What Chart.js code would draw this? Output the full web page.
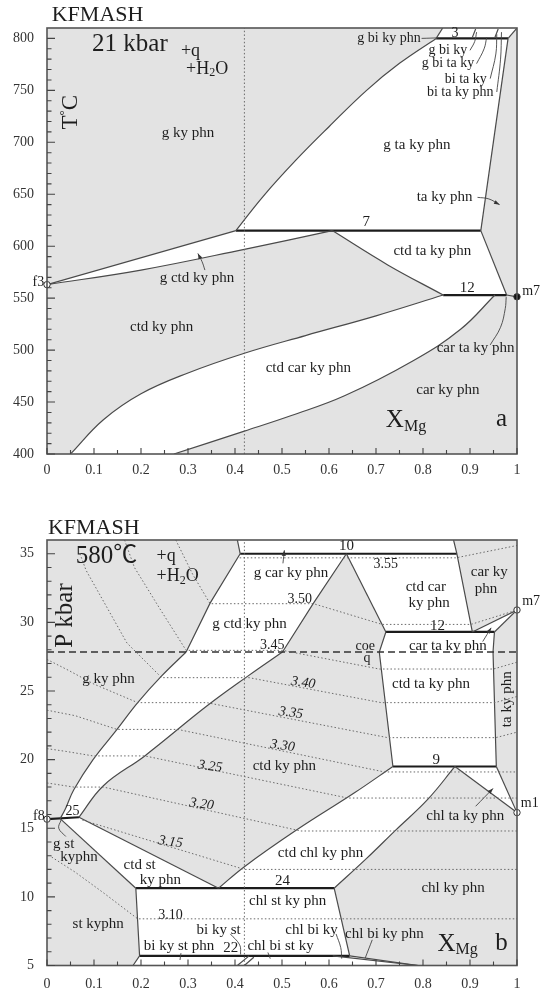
<!DOCTYPE html>
<html><head><meta charset="utf-8">
<script src="https://cdn.jsdelivr.net/npm/chart.js@4.4.0/dist/chart.umd.min.js"></script>
<style>
html,body{margin:0;padding:0;background:#fff;width:540px;height:991px;overflow:hidden}
canvas{position:absolute;left:0}
</style></head><body>
<canvas id="c1" width="540" height="490" style="top:0"></canvas>
<canvas id="c2" width="540" height="511" style="top:480px"></canvas>
<script>
// ---------------- shared ticks ----------------
const xTicks = [0,0.1,0.2,0.3,0.4,0.5,0.6,0.7,0.8,0.9,1];
const topYTicks = [400,450,500,550,600,650,700,750,800];
const botYTicks = [5,10,15,20,25,30,35];

// ---------------- (a) T-X at 21 kbar ----------------
const tF3Upper = [[0,563],[0.402,615]];
const tF3Lower = [[0,563],[0.2,577],[0.42,597],[0.607,615]];
const tLine7 = [[0.402,615],[0.923,615]];
const tCtdTaLeft = [[0.607,615],[0.725,582],[0.843,553]];
const tCtdTaRight = [[0.923,615],[0.978,553]];
const tLine12 = [[0.843,553],[0.978,553]];
const tToM7 = [[0.978,553],[1,551.3]];
const tGTaLeft = [[0.402,615],[0.46,648],[0.53,683],[0.6,715],[0.68,750],[0.75,776],[0.828,800]];
const tGTaRight = [[0.923,615],[0.981,800]];
const tLine3 = [[0.828,800],[0.981,800]];
const tCorner = [[0.981,800],[1,810]];
const tStripLeft = [[0.828,800],[0.842,810]];
const tStripMarks = [[[0.905,801],[0.912,809]],[[0.953,801],[0.96,809]]];
const tCtdCarUpper = [[0.05,400],[0.12,433],[0.2,458],[0.3,478],[0.42,497],[0.55,514],[0.7,533],[0.843,553]];
const tCtdCarLower = [[0.27,400],[0.42,422],[0.52,437],[0.633,456],[0.78,490],[0.88,520],[0.953,553]];
const tVertDotted = [[0.42,400],[0.42,810]];
const tPointsOpen = [[0,563]];
const tPointsFilled = [[1,551.3]];
const tLeaders = [
  [[0.797,800],[0.833,800.5]],
  [[0.9,788.5],[0.91,797],[0.914,806]],
  [[0.914,775.7],[0.93,790],[0.9355,801]],
  [[0.943,761.3],[0.955,785],[0.957,804]],
  [[0.957,748.4],[0.965,780],[0.967,806]],
  [[0.943,505],[0.965,522],[0.975,540],[0.977,551]]
];
const tArrows = [
  [[0.336,577],[0.33,585],[0.321,593]],
  [[0.916,647],[0.94,645.5],[0.963,640]]
];
const tLabels = [
  {t:'KFMASH', s:22, x:0.01, y:822, a:'left'},
  {t:'21 kbar', s:25, x:0.096, y:794, a:'left'},
  {t:'+q', s:18, x:0.285, y:788, a:'left'},
  {rich:[{t:'+H',s:18},{t:'2',s:12,dy:4},{t:'O',s:18}], x:0.296, y:770.5, a:'left'},
  {rich:[{t:'T',s:23},{t:'°',s:13,dy:-7},{t:'C',s:23}], x:0.052, y:729, r:-90},
  {t:'g ky phn', x:0.30, y:709},
  {t:'g ta ky phn', x:0.787, y:697},
  {t:'g bi ky phn', s:14, x:0.795, y:800, a:'right'},
  {t:'3', s:14, x:0.868, y:804.5},
  {t:'g bi ky', s:14, x:0.853, y:788.5},
  {t:'g bi ta ky', s:14, x:0.853, y:775.6},
  {t:'bi ta ky', s:14, x:0.891, y:761},
  {t:'bi ta ky phn', s:14, x:0.879, y:748.4},
  {t:'ta ky phn', x:0.846, y:647},
  {t:'7', x:0.679, y:623},
  {t:'ctd ta ky phn', x:0.82, y:595.5},
  {t:'g ctd ky phn', x:0.319, y:569},
  {t:'12', x:0.894, y:560},
  {t:'ctd ky phn', x:0.244, y:522},
  {t:'ctd car ky phn', x:0.556, y:483},
  {t:'car ta ky phn', x:0.912, y:501.6},
  {t:'car ky phn', x:0.853, y:462},
  {rich:[{t:'X',s:25},{t:'Mg',s:16,dy:6}], x:0.721, y:432, a:'left'},
  {t:'a', s:25, x:0.967, y:433},
  {t:'f3', s:14, x:-0.006, y:565, a:'right'},
  {t:'m7', s:14, x:1.011, y:557, a:'left'}
];
const tRegions = [
  [{c:tGTaLeft, s:true}, [0.981,800], [0.923,615]],
  [...tF3Upper, [0.607,615], {c:tF3Lower, s:true, rev:true}],
  [{c:tCtdTaLeft, s:true}, [0.978,553], [0.923,615]],
  [{c:tCtdCarUpper, s:true}, {c:tCtdCarLower, s:true, rev:true}],
  [[0.828,800],[0.842,810],[1,810],[0.981,800]]
];

// ---------------- (b) P-X at 580 C ----------------
const bBandLeftUp = [[0.411,35],[0.347,31.4],[0.296,27.84]];
const bBandLeftLow = [[0.296,27.84],[0.244,26.1],[0.193,24.15],[0.149,22.2],[0.098,20.0],[0.057,17.8],[0.039,16.4],[0.028,15.7]];
const bBandRightUp = [[0.637,35],[0.567,31.4],[0.501,27.84]];
const bBandRightLow = [[0.501,27.84],[0.428,26.1],[0.34,23.9],[0.208,20.27],[0.12,18.1],[0.068,15.8]];
const bApexRight = [[0.637,35],[0.721,29.3]];
const bCarKyLeft = [[0.865,36],[0.872,35],[0.905,29.3]];
const bStripLeft = [[0.405,36],[0.411,35]];
const bLine10 = [[0.411,35],[0.872,35]];
const bLine12 = [[0.721,29.3],[0.952,29.3]];
const bM7a = [[0.905,29.3],[1,30.9]];
const bM7b = [[0.952,29.3],[1,30.9]];
const bCtdTaLeft = [[0.721,29.3],[0.707,27.84],[0.736,19.5]];
const bCtdTaRight = [[0.952,29.3],[0.949,27.84],[0.956,19.5]];
const bLine9 = [[0.736,19.5],[0.956,19.5]];
const bTaToM1 = [[0.956,19.5],[1,16.14]];
const bApexToM1 = [[0.868,19.5],[1,16.14]];
const bChlBandUpper = [[0.736,19.5],[0.655,17.6],[0.53,14.85],[0.42,12.2],[0.365,10.63]];
const bChlBandLower = [[0.868,19.5],[0.81,17.1],[0.743,14.9],[0.68,12.8],[0.611,10.63]];
const bLine25 = [[0,15.66],[0.068,15.8]];
const bCtdStLeft = [[0.028,15.7],[0.189,10.63]];
const bCtdStUpper = [[0.068,15.8],[0.365,10.63]];
const bLine24 = [[0.189,10.63],[0.611,10.63]];
const bChlStLeft = [[0.189,10.63],[0.197,5.7],[0.183,5]];
const bChlStRight = [[0.611,10.63],[0.644,5.7]];
const bLine22 = [[0.197,5.7],[0.644,5.7]];
const bLowLines = [[[0.608,5.7],[0.79,5]],[[0.644,5.7],[0.79,5]],[[0.405,5],[0.43,5.7]],[[0.42,5],[0.44,5.6]]];
const bCoeQ = [[0,27.84],[1,27.84]];
const bVertDotted = [[0.42,5],[0.42,36]];
const bIsopleths = [
  [[0.41,34.7],[0.87,34.7],[1,35.6]],
  [[0.274,36],[0.31,33.5],[0.347,31.36],[0.567,31.36],[0.713,29.85],[0.902,29.85],[1,30.9]],
  [[0.165,36],[0.186,34],[0.24,31],[0.296,27.96],[0.501,27.96],[0.707,26.6],[0.95,26.6],[1,27.1]],
  [[0.07,35],[0.083,33.8],[0.17,28.5],[0.244,25.97],[0.43,25.97],[0.711,24.15],[0.953,24.15],[1,24.6]],
  [[0,27.3],[0.046,26.5],[0.1,25.5],[0.193,24.15],[0.34,24.15],[0.725,21.6],[0.955,21.6],[1,22.0]],
  [[0,23.6],[0.06,23.2],[0.149,22.2],[0.278,22.2],[0.718,19.1],[1,19.1]],
  [[0,20.8],[0.04,20.6],[0.098,20.27],[0.208,20.27],[0.64,17.2],[1,17.2]],
  [[0,18.3],[0.057,18.0],[0.12,18.0],[0.54,14.8],[1,14.8]],
  [[0.075,15.6],[0.42,12.0],[1,12.0]],
  [[0.01,12.9],[0.06,11.8],[0.12,10.3],[0.193,8.4],[1,8.4]]
];
const bPointsOpen = [[0,15.66],[1,30.9],[1,16.14]];
const bLeaders = [
  [[0.04,14.4],[0.025,15.0],[0.03,15.6]],
  [[0.39,7.3],[0.41,6.5],[0.412,5.8]],
  [[0.615,7.3],[0.625,6.3],[0.627,5.5]],
  [[0.692,6.87],[0.677,5.54]],
  [[0.285,5.9],[0.283,5.4]],
  [[0.47,5.95],[0.475,5.5]]
];
const bArrows = [
  [[0.502,34.3],[0.505,35.25]],
  [[0.927,28.6],[0.945,29.6]],
  [[0.912,16.6],[0.949,17.9]]
];
const bLabels = [
  {t:'KFMASH', s:22, x:0.002, y:36.87, a:'left'},
  {rich:[{t:'580',s:25},{t:'℃',s:24}], x:0.061, y:34.83, a:'left'},
  {t:'+q', s:18, x:0.233, y:34.8, a:'left'},
  {rich:[{t:'+H',s:18},{t:'2',s:12,dy:4},{t:'O',s:18}], x:0.233, y:33.35, a:'left'},
  {t:'P kbar', s:25, x:0.039, y:30.5, r:-90},
  {t:'g car ky phn', x:0.519, y:33.6},
  {t:'10', x:0.637, y:35.55},
  {t:'3.55', s:14, x:0.721, y:34.2},
  {t:'ctd car', x:0.806, y:32.6},
  {t:'ky phn', x:0.813, y:31.4},
  {t:'car ky', x:0.941, y:33.7},
  {t:'phn', x:0.934, y:32.45},
  {t:'3.50', s:14, x:0.538, y:31.65},
  {t:'g ctd ky phn', x:0.431, y:29.9},
  {t:'12', x:0.831, y:29.7},
  {t:'3.45', s:14, x:0.479, y:28.35},
  {t:'coe', s:14, x:0.677, y:28.25},
  {t:'q', s:14, x:0.681, y:27.35},
  {t:'car ta ky phn', x:0.853, y:28.3},
  {t:'g ky phn', x:0.131, y:25.85},
  {t:'3.40', s:14, it:true, r:8, x:0.545, y:25.6},
  {t:'ctd ta ky phn', x:0.817, y:25.5},
  {t:'ta ky phn', x:0.978, y:24.4, r:-90},
  {t:'3.35', s:14, it:true, r:8, x:0.519, y:23.4},
  {t:'3.30', s:14, it:true, r:8, x:0.501, y:21.0},
  {t:'3.25', s:14, it:true, r:8, x:0.347, y:19.5},
  {t:'ctd ky phn', x:0.505, y:19.5},
  {t:'9', x:0.828, y:20.0},
  {t:'3.20', s:14, it:true, r:8, x:0.329, y:16.75},
  {t:'chl ta ky phn', x:0.89, y:15.9},
  {t:'25', s:14, x:0.054, y:16.2},
  {t:'3.15', s:14, it:true, r:8, x:0.263, y:14.0},
  {t:'g st', x:0.013, y:13.86, a:'left'},
  {t:'kyphn', x:0.068, y:12.9},
  {t:'ctd st', x:0.197, y:12.33},
  {t:'ky phn', x:0.241, y:11.2},
  {t:'ctd chl ky phn', x:0.582, y:13.2},
  {t:'24', x:0.501, y:11.15},
  {t:'chl ky phn', x:0.864, y:10.63},
  {t:'chl st ky phn', x:0.512, y:9.7},
  {t:'3.10', s:14, x:0.263, y:8.65},
  {t:'st kyphn', x:0.109, y:8.0},
  {t:'bi ky st', x:0.365, y:7.6},
  {t:'chl bi ky', x:0.563, y:7.6},
  {t:'chl bi ky phn', x:0.718, y:7.3},
  {t:'bi ky st phn', x:0.281, y:6.38},
  {t:'22', x:0.391, y:6.3},
  {t:'chl bi st ky', x:0.497, y:6.4},
  {rich:[{t:'X',s:25},{t:'Mg',s:16,dy:6}], x:0.831, y:6.55, a:'left'},
  {t:'b', s:25, x:0.967, y:6.6},
  {t:'f8', s:14, x:-0.005, y:15.9, a:'right'},
  {t:'m7', s:14, x:1.011, y:31.5, a:'left'},
  {t:'m1', s:14, x:1.008, y:16.8, a:'left'}
];
const bRegions = [
  [[0.405,36],[0.411,35],[0.872,35],[0.865,36]],
  [...bBandLeftUp, {c:bBandLeftLow, s:true}, {c:bBandRightLow, s:true, rev:true}, ...bBandRightUp.slice().reverse()],
  [[0.637,35],[0.872,35],[0.905,29.3],[0.721,29.3]],
  [[0.905,29.3],[1,30.9],[0.952,29.3]],
  [[0.721,29.3],[0.952,29.3],[0.949,27.84],[0.956,19.5],[0.736,19.5],[0.707,27.84]],
  [[0.868,19.5],[0.956,19.5],[1,16.14]],
  [{c:bChlBandUpper, s:true}, {c:bChlBandLower, s:true, rev:true}],
  [[0.028,15.7],[0.068,15.8],[0.365,10.63],[0.189,10.63]],
  [[0.189,10.63],[0.611,10.63],[0.644,5.7],[0.197,5.7]],
  [[0.197,5.7],[0.644,5.7],[0.79,5],[0.183,5]]
];

// ---------------- helpers ----------------
const FAM = '"Liberation Serif","Times New Roman","Noto Sans CJK SC",serif';
const fnt = (s, it) => (it ? 'italic ' : '') + s + 'px ' + FAM;
const LINE = '#4a4a4a', THICK = '#1c1c1c', DOT = '#6a6a6a';
const TENSION = 0.4;
const ln = (pts, o = {}) => ({
  data: pts.map(([x, y]) => ({x, y})), showLine: true, pointRadius: 0,
  borderColor: o.c || LINE, borderWidth: o.w || 1.2, borderDash: o.d || [],
  tension: o.t || 0, fill: false, clip: 0, order: o.ord || 1
});
const pts = (arr, filled) => ({
  data: arr.map(([x, y]) => ({x, y})), showLine: false, pointRadius: 3.2,
  pointBackgroundColor: filled ? '#111' : '#fff', pointBorderColor: '#333',
  pointBorderWidth: 1, clip: false, order: 0
});
function spline(first, middle, after, t) {
  if (Chart.helpers && Chart.helpers.splineCurve) return Chart.helpers.splineCurve(first, middle, after, t);
  const d01 = Math.hypot(middle.x - first.x, middle.y - first.y);
  const d12 = Math.hypot(after.x - middle.x, after.y - middle.y);
  let s01 = d01 / (d01 + d12), s12 = d12 / (d01 + d12);
  s01 = isNaN(s01) ? 0 : s01; s12 = isNaN(s12) ? 0 : s12;
  const fa = t * s01, fb = t * s12;
  return {previous: {x: middle.x - fa * (after.x - first.x), y: middle.y - fa * (after.y - first.y)},
          next: {x: middle.x + fb * (after.x - first.x), y: middle.y + fb * (after.y - first.y)}};
}
function regionPath(ctx, items, x, y) {
  let first = true;
  const go = (X, Y) => { if (first) { ctx.moveTo(X, Y); first = false; } else ctx.lineTo(X, Y); };
  for (const it of items) {
    if (Array.isArray(it)) { go(x.getPixelForValue(it[0]), y.getPixelForValue(it[1])); continue; }
    let p = it.c.map(([a, b]) => ({x: x.getPixelForValue(a), y: y.getPixelForValue(b)}));
    if (it.rev) p = p.reverse();
    go(p[0].x, p[0].y);
    if (!it.s) { p.slice(1).forEach(q => ctx.lineTo(q.x, q.y)); continue; }
    const cps = p.map((pt, i) => spline(p[i - 1] || pt, pt, p[i + 1] || pt, TENSION));
    for (let i = 1; i < p.length; i++)
      ctx.bezierCurveTo(cps[i - 1].next.x, cps[i - 1].next.y, cps[i].previous.x, cps[i].previous.y, p[i].x, p[i].y);
  }
}

const phasePlugin = {
  id: 'phase',
  beforeDatasetsDraw(chart, args, o) {
    const {ctx, chartArea: a, scales: {x, y}} = chart;
    ctx.save();
    ctx.fillStyle = '#e3e3e3';
    ctx.fillRect(a.left, a.top, a.width, a.height);
    ctx.beginPath(); ctx.rect(a.left, a.top, a.width, a.height); ctx.clip();
    ctx.fillStyle = '#fff';
    for (const poly of o.regions) {
      ctx.beginPath(); regionPath(ctx, poly, x, y); ctx.closePath(); ctx.fill();
    }
    ctx.restore();
  },
  afterDatasetsDraw(chart, args, o) {
    const {ctx, chartArea: a, scales: {x, y}} = chart;
    ctx.save();
    ctx.strokeStyle = '#555'; ctx.lineWidth = 1.6;
    ctx.strokeRect(a.left, a.top, a.width, a.height);
    ctx.lineWidth = 1.1; ctx.strokeStyle = '#444';
    ctx.beginPath();
    for (let i = 0; i <= 20; i++) {
      const px = x.getPixelForValue(i * 0.05);
      ctx.moveTo(px, a.bottom); ctx.lineTo(px, a.bottom - (i % 2 ? 4 : 6));
    }
    const nMin = Math.round((o.yTop - o.yMin) / o.yMinor);
    for (let i = 0; i <= nMin; i++) {
      const v = o.yMin + i * o.yMinor;
      const py = y.getPixelForValue(v);
      const major = Math.abs(v / o.yMajor - Math.round(v / o.yMajor)) < 1e-6;
      ctx.moveTo(a.left, py); ctx.lineTo(a.left + (major ? 8 : 4.5), py);
    }
    ctx.stroke();
    ctx.fillStyle = '#333';
    for (const arr of o.arrows) {
      const p1 = arr[arr.length - 2], p2 = arr[arr.length - 1];
      const X1 = x.getPixelForValue(p1[0]), Y1 = y.getPixelForValue(p1[1]);
      const X2 = x.getPixelForValue(p2[0]), Y2 = y.getPixelForValue(p2[1]);
      const ang = Math.atan2(Y2 - Y1, X2 - X1);
      ctx.beginPath();
      ctx.moveTo(X2, Y2);
      ctx.lineTo(X2 - 6 * Math.cos(ang - 0.35), Y2 - 6 * Math.sin(ang - 0.35));
      ctx.lineTo(X2 - 6 * Math.cos(ang + 0.35), Y2 - 6 * Math.sin(ang + 0.35));
      ctx.closePath(); ctx.fill();
    }
    ctx.fillStyle = '#1e1e1e';
    ctx.textBaseline = 'middle'; ctx.textAlign = 'left';
    for (const L of o.labels) {
      const segs = (L.rich || [{t: L.t, s: L.s}]).map(sg => Object.assign({}, sg));
      let total = 0;
      segs.forEach(sg => { ctx.font = fnt(sg.s || 15, L.it); sg.w = ctx.measureText(sg.t).width; total += sg.w; });
      ctx.save();
      ctx.translate(x.getPixelForValue(L.x), y.getPixelForValue(L.y));
      if (L.r) ctx.rotate(L.r * Math.PI / 180);
      let cx = L.a === 'left' ? 0 : L.a === 'right' ? -total : -total / 2;
      segs.forEach(sg => { ctx.font = fnt(sg.s || 15, L.it); ctx.fillText(sg.t, cx, sg.dy || 0); cx += sg.w; });
      ctx.restore();
    }
    ctx.restore();
  }
};

function build(id, cfg) {
  const datasets = [];
  cfg.dotted.forEach(p => datasets.push(ln(p, {c: DOT, w: 1, d: [1.5, 2.2]})));
  cfg.dashed.forEach(p => datasets.push(ln(p, {c: '#333', w: 1.3, d: [7, 4]})));
  cfg.thin.forEach(p => datasets.push(ln(p, {})));
  cfg.smooth.forEach(p => datasets.push(ln(p, {t: TENSION})));
  cfg.curves.forEach(p => datasets.push(ln(p, {t: 0.4, w: 0.9, c: '#444'})));
  cfg.thick.forEach(p => datasets.push(ln(p, {c: THICK, w: 2.2})));
  cfg.open.length && datasets.push(pts(cfg.open, false));
  cfg.filled.length && datasets.push(pts(cfg.filled, true));
  return new Chart(document.getElementById(id), {
    type: 'scatter',
    data: {datasets},
    plugins: [phasePlugin],
    options: {
      responsive: false, animation: false, events: [], devicePixelRatio: 1,
      layout: {padding: {left: 0, right: 23, top: cfg.padTop, bottom: 0}},
      plugins: {
        legend: {display: false}, tooltip: {enabled: false},
        phase: {regions: cfg.regions, labels: cfg.labels, arrows: cfg.arrows,
          yMin: cfg.yMin, yTop: cfg.yTicks[cfg.yTicks.length - 1], yMinor: cfg.yMinor, yMajor: cfg.yMajor}
      },
      scales: {
        x: {
          type: 'linear', min: 0, max: 1,
          afterBuildTicks: s => { s.ticks = xTicks.map(v => ({value: v})); },
          afterFit: s => { s.height = cfg.xH; },
          ticks: {padding: cfg.xPad, color: '#333', font: {family: FAM, size: 14},
            callback: v => String(Math.round(v * 10) / 10), maxRotation: 0, autoSkip: false},
          grid: {display: false, drawTicks: false}, border: {display: false}
        },
        y: {
          type: 'linear', min: cfg.yMin, max: cfg.yMax,
          afterBuildTicks: s => { s.ticks = cfg.yTicks.map(v => ({value: v})); },
          afterFit: s => { s.width = 47; },
          ticks: {padding: 13, color: '#333', font: {family: FAM, size: 14}, autoSkip: false},
          grid: {display: false, drawTicks: false}, border: {display: false}
        }
      }
    }
  });
}

build('c1', {
  padTop: 28, xH: 36, xPad: 8, yMin: 400, yMax: 810, yTicks: topYTicks, yMinor: 10, yMajor: 50,
  regions: tRegions, labels: tLabels, arrows: tArrows,
  dotted: [tVertDotted], dashed: [],
  thin: [tF3Upper, tCtdTaRight, tToM7, tGTaRight, tCorner, tStripLeft, ...tStripMarks],
  smooth: [tF3Lower, tCtdTaLeft, tGTaLeft, tCtdCarUpper, tCtdCarLower],
  curves: [...tLeaders, ...tArrows],
  thick: [tLine7, tLine12, tLine3],
  open: tPointsOpen, filled: tPointsFilled
});

build('c2', {
  padTop: 60, xH: 25.5, xPad: 10, yMin: 5, yMax: 36, yTicks: botYTicks, yMinor: 1, yMajor: 5,
  regions: bRegions, labels: bLabels, arrows: bArrows,
  dotted: [bVertDotted, ...bIsopleths], dashed: [bCoeQ],
  thin: [bBandLeftUp, bBandRightUp, bApexRight, bCarKyLeft, bStripLeft, bM7a, bM7b, bCtdTaLeft, bCtdTaRight,
         bTaToM1, bApexToM1, bCtdStLeft, bCtdStUpper, bChlStLeft, bChlStRight, ...bLowLines],
  smooth: [bBandLeftLow, bBandRightLow, bChlBandUpper, bChlBandLower],
  curves: [...bLeaders, ...bArrows],
  thick: [bLine10, bLine12, bLine9, bLine25, bLine24, bLine22],
  open: bPointsOpen, filled: []
});
</script>
</body></html>
